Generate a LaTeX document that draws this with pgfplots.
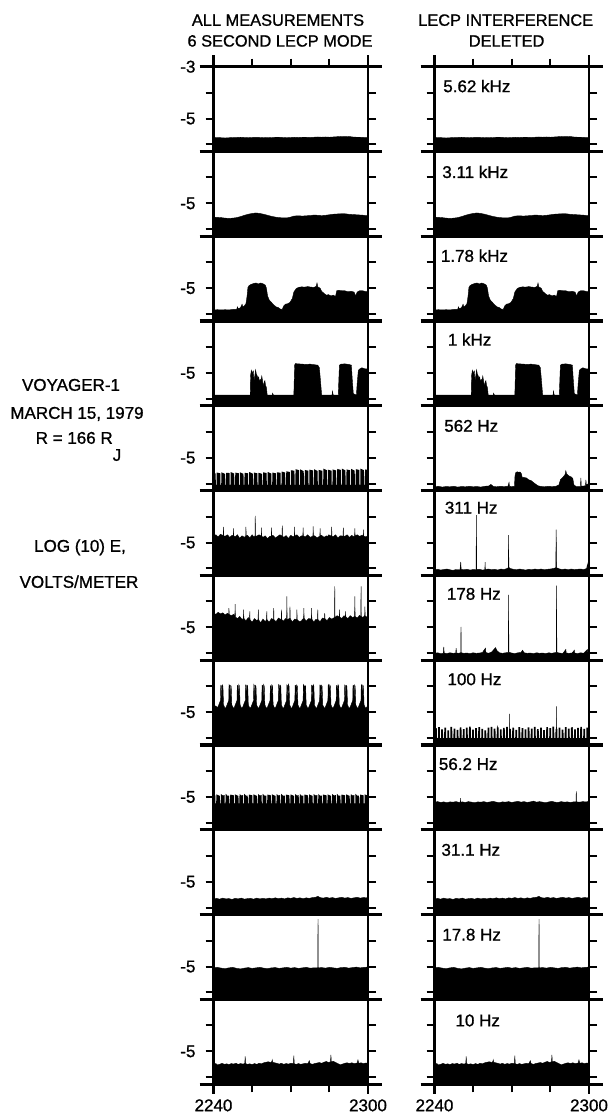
\documentclass[border=0pt]{standalone}
\usepackage{fontspec}
\setmainfont{Liberation Sans}
\newfontfamily\scan{Liberation Sans}[FakeBold=1]
\usepackage{pgfplots}
\pgfplotsset{compat=1.18}
\usepackage{pgfplotstable}

% ---------- log10 E (V/m) against minutes after 22:40 ----------
% 5.62 kHz (same in both columns)
\pgfplotstableread[row sep=\\]{x y\\
0 -6.4\\0 -5.74\\0.5 -5.73\\1 -5.74\\1.5 -5.75\\2 -5.74\\2.5 -5.73\\3 -5.73\\3.5 -5.72\\4 -5.73\\4.5 -5.74\\5 -5.73\\5.5 -5.72\\6 -5.73\\6.5 -5.74\\7 -5.73\\7.5 -5.74\\8 -5.72\\8.5 -5.72\\9 -5.73\\9.5 -5.74\\10 -5.73\\10.5 -5.72\\11 -5.73\\11.5 -5.72\\12 -5.72\\12.5 -5.73\\13 -5.72\\13.5 -5.71\\14 -5.72\\14.5 -5.71\\15 -5.72\\15.5 -5.71\\16 -5.70\\16.5 -5.69\\17 -5.70\\17.5 -5.69\\18 -5.71\\18.5 -5.72\\19 -5.72\\19.5 -5.73\\20 -5.73\\20 -6.4\\
}\TA
% 3.11 kHz
\pgfplotstableread[row sep=\\]{x y\\
0 -6.4\\0 -5.53\\0.5 -5.54\\1 -5.55\\1.5 -5.57\\2 -5.58\\2.5 -5.57\\3 -5.55\\3.5 -5.51\\4 -5.46\\4.5 -5.42\\5 -5.39\\5.5 -5.37\\6 -5.39\\6.5 -5.42\\7 -5.46\\7.5 -5.5\\8 -5.53\\8.5 -5.55\\9 -5.56\\9.5 -5.56\\10 -5.53\\10.4 -5.49\\11 -5.48\\11.5 -5.49\\12 -5.48\\12.5 -5.47\\13 -5.45\\13.5 -5.46\\14 -5.47\\14.5 -5.46\\15 -5.44\\15.5 -5.42\\16 -5.41\\16.5 -5.4\\17 -5.4\\17.5 -5.42\\18 -5.43\\18.5 -5.44\\19 -5.45\\19.5 -5.46\\20 -5.48\\20 -6.4\\
}\TB
% 1.78 kHz
\pgfplotstableread[row sep=\\]{x y\\
0 -6.4\\0 -5.84\\0.5 -5.83\\1 -5.84\\1.5 -5.83\\2 -5.84\\2.5 -5.82\\3.0 -5.82\\3.1 -5.72\\3.2 -5.8\\3.5 -5.75\\3.7 -5.62\\3.8 -5.72\\4.0 -5.68\\4.2 -5.6\\4.35 -5.3\\4.45 -4.98\\4.6 -4.9\\4.9 -4.85\\5.2 -4.82\\5.5 -4.8\\5.8 -4.84\\6.1 -4.8\\6.4 -4.83\\6.7 -4.88\\6.85 -5.0\\7.0 -5.3\\7.2 -5.45\\7.5 -5.55\\7.8 -5.65\\8.1 -5.72\\8.4 -5.75\\8.6 -5.8\\8.9 -5.82\\9.1 -5.68\\9.3 -5.62\\9.6 -5.6\\9.9 -5.55\\10.2 -5.4\\10.4 -5.15\\10.7 -5.02\\11.0 -4.97\\11.4 -4.95\\11.8 -4.96\\12.2 -4.94\\12.6 -4.96\\13.0 -4.97\\13.3 -4.93\\13.4 -4.8\\13.5 -4.95\\13.8 -5.0\\14.0 -5.12\\14.3 -5.2\\14.6 -5.27\\14.9 -5.25\\15.2 -5.3\\15.5 -5.27\\15.8 -5.32\\15.95 -5.1\\16.2 -5.08\\16.6 -5.1\\17.0 -5.1\\17.4 -5.14\\17.8 -5.12\\18.2 -5.15\\18.4 -5.3\\18.6 -5.15\\18.9 -5.1\\19.3 -5.1\\19.7 -5.13\\20 -5.14\\20 -6.4\\
}\TC
% 1 kHz
\pgfplotstableread[row sep=\\]{x y\\
0 -6.4\\0 -5.85\\2 -5.85\\4.75 -5.85\\4.8 -5.1\\4.9 -4.9\\5.0 -5.0\\5.15 -4.92\\5.25 -5.3\\5.35 -5.1\\5.45 -4.88\\5.55 -5.05\\5.65 -5.1\\5.75 -5.2\\5.85 -5.15\\5.95 -5.35\\6.05 -5.25\\6.15 -5.3\\6.25 -5.12\\6.35 -5.3\\6.45 -5.55\\6.55 -5.35\\6.65 -5.3\\6.75 -5.5\\6.85 -5.55\\6.95 -5.85\\7.6 -5.85\\7.65 -5.78\\7.75 -5.85\\10.4 -5.85\\10.5 -4.7\\10.6 -4.64\\11 -4.65\\11.5 -4.66\\12 -4.67\\12.5 -4.66\\13 -4.68\\13.5 -4.7\\13.7 -4.8\\13.85 -5.3\\14.0 -5.85\\15.35 -5.85\\15.4 -5.7\\15.5 -5.85\\16.15 -5.85\\16.3 -4.7\\16.5 -4.66\\17.0 -4.65\\17.5 -4.67\\17.85 -4.7\\17.95 -5.2\\18.1 -5.8\\18.5 -5.85\\18.6 -5.4\\18.75 -4.9\\18.9 -4.85\\19.2 -4.8\\19.6 -4.84\\20 -4.85\\20 -6.4\\
}\TD
% 562 Hz, all measurements
\pgfplotstableread[row sep=\\]{x y\\
0 -6.4\\0 -5.6\\
0.28 -5.6\\0.30 -6.05\\0.40 -6.05\\0.42 -5.57\\
0.88 -5.6\\0.90 -6.05\\1.00 -6.05\\1.02 -5.56\\
1.48 -5.62\\1.50 -6.05\\1.60 -6.05\\1.62 -5.58\\
2.08 -5.59\\2.10 -6.05\\2.20 -6.05\\2.22 -5.55\\
2.68 -5.61\\2.70 -6.05\\2.80 -6.05\\2.82 -5.57\\
3.28 -5.6\\3.30 -6.05\\3.40 -6.05\\3.42 -5.56\\
3.88 -5.62\\3.90 -6.05\\4.00 -6.05\\4.02 -5.58\\
4.48 -5.6\\4.50 -6.05\\4.60 -6.05\\4.62 -5.55\\
5.08 -5.61\\5.10 -6.05\\5.20 -6.05\\5.22 -5.57\\
5.68 -5.6\\5.70 -6.05\\5.80 -6.05\\5.82 -5.58\\
6.28 -5.62\\6.30 -6.05\\6.40 -6.05\\6.42 -5.56\\
6.88 -5.59\\6.90 -6.05\\7.00 -6.05\\7.02 -5.55\\
7.48 -5.61\\7.50 -6.05\\7.60 -6.05\\7.62 -5.57\\
8.08 -5.6\\8.10 -6.05\\8.20 -6.05\\8.22 -5.56\\
8.68 -5.58\\8.70 -6.05\\8.80 -6.05\\8.82 -5.53\\
9.28 -5.57\\9.30 -6.05\\9.40 -6.05\\9.42 -5.52\\
9.88 -5.55\\9.90 -6.05\\10.00 -6.05\\10.02 -5.48\\
10.48 -5.5\\10.50 -6.05\\10.60 -6.05\\10.62 -5.44\\
11.08 -5.48\\11.10 -6.05\\11.20 -6.05\\11.22 -5.45\\
11.68 -5.52\\11.70 -6.05\\11.80 -6.05\\11.82 -5.47\\
12.28 -5.5\\12.30 -6.05\\12.40 -6.05\\12.42 -5.46\\
12.88 -5.49\\12.90 -6.05\\13.00 -6.05\\13.02 -5.44\\
13.48 -5.51\\13.50 -6.05\\13.60 -6.05\\13.62 -5.47\\
14.08 -5.5\\14.10 -6.05\\14.20 -6.05\\14.22 -5.42\\
14.68 -5.48\\14.70 -6.05\\14.80 -6.05\\14.82 -5.46\\
15.28 -5.5\\15.30 -6.05\\15.40 -6.05\\15.42 -5.45\\
15.88 -5.49\\15.90 -6.05\\16.00 -6.05\\16.02 -5.43\\
16.48 -5.47\\16.50 -6.05\\16.60 -6.05\\16.62 -5.42\\
17.08 -5.49\\17.10 -6.05\\17.20 -6.05\\17.22 -5.45\\
17.68 -5.48\\17.70 -6.05\\17.80 -6.05\\17.82 -5.43\\
18.28 -5.5\\18.30 -6.05\\18.40 -6.05\\18.42 -5.44\\
18.88 -5.47\\18.90 -6.05\\19.00 -6.05\\19.02 -5.42\\
19.48 -5.48\\19.50 -6.05\\19.60 -6.05\\19.62 -5.45\\
20 -5.47\\20 -6.4\\
}\TEl
% 562 Hz, interference deleted
\pgfplotstableread[row sep=\\]{x y\\
0 -6.4\\0 -6.12\\0.5 -6.1\\1.0 -6.13\\1.5 -6.11\\2.0 -6.12\\2.5 -6.1\\3.0 -6.13\\3.5 -6.11\\4.0 -6.12\\4.5 -6.1\\5.0 -6.12\\5.5 -6.11\\6.0 -6.13\\6.5 -6.1\\7.0 -6.09\\7.3 -6.03\\7.6 -6.1\\8.0 -6.12\\8.5 -6.1\\9.0 -6.11\\9.5 -6.1\\9.65 -5.95\\9.7 -6.1\\10.0 -6.11\\10.35 -6.1\\10.42 -5.7\\10.5 -5.58\\10.7 -5.54\\10.9 -5.56\\11.1 -5.55\\11.25 -5.62\\11.35 -5.75\\11.6 -5.76\\11.9 -5.78\\12.2 -5.85\\12.5 -5.88\\12.8 -5.95\\13.1 -6.02\\13.4 -6.08\\13.7 -6.1\\14.2 -6.12\\14.7 -6.1\\15.2 -6.11\\15.7 -6.1\\16.1 -6.05\\16.3 -5.85\\16.6 -5.76\\16.9 -5.65\\17.0 -5.5\\17.1 -5.62\\17.4 -5.7\\17.7 -5.74\\17.9 -5.8\\18.05 -6.05\\18.3 -6.1\\18.9 -6.1\\18.95 -5.78\\19.0 -6.1\\19.55 -6.08\\19.6 -5.85\\19.65 -6.05\\20 -5.98\\20 -6.4\\
}\TEr
% 311 Hz, all measurements
\pgfplotstableread[row sep=\\]{x y\\
0 -6.4\\0 -4.75\\0.3 -4.7\\0.6 -4.78\\0.9 -4.68\\1.2 -4.72\\1.27 -4.74\\1.3 -4.4\\1.33 -4.74\\1.5 -4.76\\1.8 -4.7\\2.1 -4.8\\2.4 -4.72\\2.57 -4.75\\2.6 -4.45\\2.63 -4.75\\2.8 -4.78\\3.1 -4.7\\3.4 -4.84\\3.55 -4.78\\3.57 -4.95\\3.59 -4.76\\3.7 -4.74\\4.0 -4.8\\4.17 -4.75\\4.2 -4.4\\4.23 -4.75\\4.4 -4.72\\4.7 -4.82\\5.0 -4.7\\5.2 -4.78\\5.37 -4.75\\5.4 -3.97\\5.43 -4.75\\5.6 -4.75\\5.9 -4.7\\6.17 -4.75\\6.2 -4.42\\6.23 -4.75\\6.4 -4.8\\6.7 -4.74\\7.0 -4.85\\7.3 -4.76\\7.47 -4.75\\7.5 -4.42\\7.53 -4.75\\7.7 -4.72\\8.0 -4.82\\8.15 -4.8\\8.17 -4.96\\8.19 -4.78\\8.3 -4.76\\8.6 -4.7\\8.87 -4.75\\8.9 -4.35\\8.93 -4.75\\9.1 -4.8\\9.4 -4.73\\9.7 -4.84\\10.0 -4.72\\10.3 -4.78\\10.47 -4.75\\10.5 -4.4\\10.53 -4.75\\10.8 -4.7\\11.1 -4.8\\11.4 -4.74\\11.57 -4.75\\11.6 -4.42\\11.63 -4.75\\11.9 -4.78\\12.2 -4.7\\12.5 -4.8\\12.87 -4.75\\12.9 -4.38\\12.93 -4.75\\13.1 -4.74\\13.4 -4.82\\13.77 -4.75\\13.8 -4.45\\13.83 -4.75\\14.0 -4.72\\14.3 -4.8\\14.6 -4.74\\14.75 -4.78\\14.77 -4.95\\14.79 -4.76\\14.9 -4.7\\15.27 -4.75\\15.3 -4.4\\15.33 -4.75\\15.5 -4.78\\15.8 -4.7\\16.1 -4.82\\16.4 -4.74\\16.77 -4.75\\16.8 -4.42\\16.83 -4.75\\17.0 -4.76\\17.3 -4.7\\17.6 -4.8\\17.9 -4.72\\18.1 -4.78\\18.27 -4.75\\18.3 -4.45\\18.33 -4.75\\18.6 -4.7\\18.9 -4.76\\19.2 -4.72\\19.37 -4.75\\19.4 -4.5\\19.43 -4.75\\19.7 -4.78\\20 -4.75\\20 -6.4\\
}\TFl
% 311 Hz, interference deleted
\pgfplotstableread[row sep=\\]{x y\\
0 -6.4\\0 -6.05\\0.4 -6.03\\0.8 -6.06\\1.2 -6.04\\1.6 -6.02\\2.0 -6.05\\2.4 -6.07\\2.8 -6.04\\3.3 -6.04\\3.4 -5.75\\3.45 -6.03\\3.8 -6.05\\4.2 -6.03\\4.6 -6.06\\5.0 -6.04\\5.38 -6.05\\5.42 -3.94\\5.46 -6.04\\5.8 -6.03\\6.2 -6.06\\6.52 -6.05\\6.55 -5.75\\6.58 -6.04\\7.0 -6.02\\7.4 -6.05\\7.8 -6.03\\8.2 -6.06\\8.6 -6.02\\9.0 -6.04\\9.4 -6.0\\9.55 -5.97\\9.59 -4.71\\9.63 -5.96\\9.8 -6.0\\10.2 -6.03\\10.6 -6.05\\11.0 -6.02\\11.4 -6.04\\11.8 -6.06\\12.2 -6.03\\12.6 -6.05\\13.0 -6.02\\13.4 -6.04\\13.8 -6.02\\14.2 -6.05\\14.6 -6.03\\15.0 -6.02\\15.4 -6.0\\15.7 -5.97\\15.75 -4.5\\15.8 -5.97\\16.1 -6.01\\16.5 -6.04\\16.9 -6.02\\17.3 -6.05\\17.7 -6.02\\18.1 -6.04\\18.5 -6.03\\18.9 -6.02\\19.3 -6.04\\19.7 -6.0\\19.8 -5.83\\19.85 -6.0\\20 -6.02\\20 -6.4\\
}\TFr
% 178 Hz, all measurements
\pgfplotstableread[row sep=\\]{x y\\
0 -6.4\\0 -4.45\\0.3 -4.5\\0.6 -4.42\\0.9 -4.48\\1.2 -4.44\\1.5 -4.52\\1.8 -4.46\\1.97 -4.5\\2.0 -4.26\\2.03 -4.5\\2.3 -4.55\\2.6 -4.5\\2.77 -4.55\\2.8 -4.1\\2.83 -4.6\\3.1 -4.66\\3.4 -4.58\\3.7 -4.7\\3.87 -4.65\\3.9 -4.32\\3.93 -4.65\\4.2 -4.75\\4.5 -4.62\\4.67 -4.7\\4.7 -4.38\\4.73 -4.7\\5.0 -4.8\\5.3 -4.66\\5.6 -4.74\\5.77 -4.7\\5.8 -4.32\\5.83 -4.7\\6.1 -4.82\\6.4 -4.68\\6.7 -4.78\\6.87 -4.7\\6.9 -4.38\\6.93 -4.7\\7.2 -4.8\\7.5 -4.66\\7.77 -4.7\\7.8 -4.26\\7.83 -4.7\\8.1 -4.78\\8.4 -4.64\\8.77 -4.7\\8.8 -4.32\\8.83 -4.7\\9.1 -4.76\\9.3 -4.66\\9.47 -4.7\\9.5 -3.81\\9.53 -4.7\\9.7 -4.68\\9.87 -4.65\\9.9 -4.2\\9.93 -4.65\\10.2 -4.8\\10.5 -4.68\\10.77 -4.7\\10.8 -4.32\\10.83 -4.7\\11.1 -4.78\\11.37 -4.75\\11.4 -5.23\\11.43 -4.72\\11.67 -4.65\\11.7 -4.26\\11.73 -4.65\\12.0 -4.76\\12.3 -4.66\\12.67 -4.68\\12.7 -4.26\\12.73 -4.68\\13.0 -4.8\\13.2 -4.7\\13.47 -4.7\\13.5 -4.32\\13.53 -4.7\\13.8 -4.78\\14.1 -4.64\\14.37 -4.66\\14.4 -4.45\\14.43 -4.66\\14.7 -4.74\\15.0 -4.62\\15.3 -4.68\\15.67 -4.62\\15.7 -3.42\\15.73 -4.62\\16.0 -4.55\\16.27 -4.6\\16.3 -4.32\\16.33 -4.6\\16.6 -4.66\\16.9 -4.55\\17.07 -4.6\\17.1 -4.38\\17.13 -4.6\\17.4 -4.66\\17.7 -4.55\\18.0 -4.62\\18.27 -4.58\\18.3 -3.81\\18.33 -4.58\\18.6 -4.64\\18.9 -4.54\\19.07 -4.58\\19.1 -3.42\\19.13 -4.58\\19.35 -4.62\\19.57 -4.55\\19.6 -4.2\\19.63 -4.55\\19.8 -4.6\\20 -4.56\\20 -6.4\\
}\TGl
% 178 Hz, interference deleted
\pgfplotstableread[row sep=\\]{x y\\
0 -6.4\\0 -6.0\\0.4 -5.98\\0.8 -6.01\\1.15 -6.0\\1.2 -5.75\\1.25 -5.99\\1.6 -6.01\\2.0 -5.98\\2.4 -6.0\\2.75 -5.99\\2.8 -5.8\\2.85 -5.99\\3.1 -6.0\\3.4 -5.98\\3.43 -4.98\\3.46 -5.98\\3.8 -6.0\\4.2 -5.99\\4.6 -6.01\\5.0 -5.98\\5.4 -6.0\\5.8 -5.99\\6.2 -5.97\\6.6 -5.8\\6.65 -5.97\\7.0 -6.0\\7.4 -5.95\\7.7 -5.85\\7.9 -5.78\\8.1 -5.9\\8.4 -5.98\\8.8 -6.0\\9.2 -5.98\\9.55 -5.97\\9.59 -3.75\\9.63 -5.96\\10.0 -5.99\\10.4 -6.01\\10.8 -5.98\\11.2 -5.97\\11.4 -5.88\\11.6 -5.98\\12.0 -6.0\\12.4 -5.99\\12.8 -6.01\\13.2 -5.98\\13.6 -6.0\\14.0 -5.99\\14.4 -6.01\\14.8 -5.98\\15.2 -6.0\\15.5 -5.98\\15.76 -5.97\\15.8 -3.39\\15.84 -5.97\\16.2 -5.99\\16.6 -6.01\\17.0 -5.85\\17.05 -5.99\\17.4 -6.0\\17.8 -5.99\\18.1 -5.88\\18.15 -5.99\\18.5 -6.01\\18.9 -5.98\\19.3 -6.0\\19.8 -5.85\\19.85 -5.99\\20 -6.0\\20 -6.4\\
}\TGr
% 100 Hz, all measurements
\pgfplotstableread[row sep=\\]{x y\\
0 -6.4\\0 -4.8\\0.25 -4.76\\
0.55 -4.82\\0.90 -4.55\\0.94 -3.96\\1.02 -3.98\\1.05 -4.35\\1.11 -4.35\\1.14 -3.95\\1.22 -4.0\\1.30 -4.72\\1.50 -4.85\\
1.62 -4.82\\1.97 -4.55\\2.01 -3.94\\2.09 -3.98\\2.12 -4.35\\2.18 -4.35\\2.21 -3.97\\2.29 -4.0\\2.37 -4.72\\2.57 -4.85\\
2.69 -4.82\\3.04 -4.55\\3.08 -3.97\\3.16 -3.98\\3.19 -4.35\\3.25 -4.35\\3.28 -3.94\\3.36 -4.0\\3.44 -4.72\\3.64 -4.85\\
3.76 -4.82\\4.11 -4.55\\4.15 -3.95\\4.23 -3.98\\4.26 -4.35\\4.32 -4.35\\4.35 -3.96\\4.43 -4.0\\4.51 -4.72\\4.71 -4.85\\
4.83 -4.82\\5.18 -4.55\\5.22 -3.93\\5.30 -3.98\\5.33 -4.35\\5.39 -4.35\\5.42 -3.97\\5.50 -4.0\\5.58 -4.72\\5.78 -4.85\\
5.90 -4.82\\6.25 -4.55\\6.29 -3.96\\6.37 -3.98\\6.40 -4.35\\6.46 -4.35\\6.49 -3.94\\6.57 -4.0\\6.65 -4.72\\6.85 -4.85\\
6.97 -4.82\\7.32 -4.55\\7.36 -3.98\\7.44 -3.98\\7.47 -4.35\\7.53 -4.35\\7.56 -3.95\\7.64 -4.0\\7.72 -4.72\\7.92 -4.85\\
8.04 -4.82\\8.39 -4.55\\8.43 -3.94\\8.51 -3.98\\8.54 -4.35\\8.60 -4.35\\8.63 -3.96\\8.71 -4.0\\8.79 -4.72\\8.99 -4.85\\
9.11 -4.82\\9.46 -4.55\\9.50 -3.95\\9.58 -3.98\\9.61 -4.35\\9.67 -4.35\\9.70 -3.93\\9.78 -4.0\\9.86 -4.72\\10.06 -4.85\\
10.18 -4.82\\10.53 -4.55\\10.57 -3.97\\10.65 -3.98\\10.68 -4.35\\10.74 -4.35\\10.77 -3.95\\10.85 -4.0\\10.93 -4.72\\11.13 -4.85\\
11.25 -4.82\\11.60 -4.55\\11.64 -3.94\\11.72 -3.98\\11.75 -4.35\\11.81 -4.35\\11.84 -3.97\\11.92 -4.0\\12.00 -4.72\\12.20 -4.85\\
12.32 -4.82\\12.67 -4.55\\12.71 -3.96\\12.79 -3.98\\12.82 -4.35\\12.88 -4.35\\12.91 -3.94\\12.99 -4.0\\13.07 -4.72\\13.27 -4.85\\
13.39 -4.82\\13.74 -4.55\\13.78 -3.95\\13.86 -3.98\\13.89 -4.35\\13.95 -4.35\\13.98 -3.96\\14.06 -4.0\\14.14 -4.72\\14.34 -4.85\\
14.46 -4.82\\14.81 -4.55\\14.85 -3.93\\14.93 -3.98\\14.96 -4.35\\15.02 -4.35\\15.05 -3.95\\15.13 -4.0\\15.21 -4.72\\15.41 -4.85\\
15.53 -4.82\\15.88 -4.55\\15.92 -3.97\\16.00 -3.98\\16.03 -4.35\\16.09 -4.35\\16.12 -3.94\\16.20 -4.0\\16.28 -4.72\\16.48 -4.85\\
16.60 -4.82\\16.95 -4.55\\16.99 -3.95\\17.07 -3.98\\17.10 -4.35\\17.16 -4.35\\17.19 -3.97\\17.27 -4.0\\17.35 -4.72\\17.55 -4.85\\
17.67 -4.82\\18.02 -4.55\\18.06 -3.96\\18.14 -3.98\\18.17 -4.35\\18.23 -4.35\\18.26 -3.95\\18.34 -4.0\\18.42 -4.72\\18.62 -4.85\\
18.74 -4.82\\19.09 -4.55\\19.13 -3.94\\19.21 -3.98\\19.24 -4.35\\19.30 -4.35\\19.33 -3.96\\19.41 -4.0\\19.49 -4.72\\19.69 -4.85\\
20 -4.75\\20 -6.4\\
}\THl
% 100 Hz, interference deleted: fence of short bars
\pgfplotstableread[row sep=\\]{x y\\
0 -6.4\\0 -6.0\\
0.05 -6.0\\0.07 -5.62\\0.29 -5.62\\0.31 -6.0\\
0.45 -6.0\\0.47 -5.58\\0.69 -5.58\\0.71 -6.0\\
0.85 -6.0\\0.87 -5.66\\1.09 -5.66\\1.11 -6.0\\
1.25 -6.0\\1.27 -5.6\\1.49 -5.6\\1.51 -6.0\\
1.65 -6.0\\1.67 -5.7\\1.89 -5.7\\1.91 -6.0\\
2.05 -6.0\\2.07 -5.57\\2.29 -5.57\\2.31 -6.0\\
2.45 -6.0\\2.47 -5.63\\2.69 -5.63\\2.71 -6.0\\
2.85 -6.0\\2.87 -5.68\\3.09 -5.68\\3.11 -6.0\\
3.25 -6.0\\3.27 -5.59\\3.49 -5.59\\3.51 -6.0\\
3.65 -6.0\\3.67 -5.65\\3.89 -5.65\\3.91 -6.0\\
4.05 -6.0\\4.07 -5.6\\4.29 -5.6\\4.31 -6.0\\
4.45 -6.0\\4.47 -5.56\\4.69 -5.56\\4.71 -6.0\\
4.85 -6.0\\4.87 -5.67\\5.09 -5.67\\5.11 -6.0\\
5.25 -6.0\\5.27 -5.62\\5.49 -5.62\\5.51 -6.0\\
5.65 -6.0\\5.67 -5.58\\5.89 -5.58\\5.91 -6.0\\
6.05 -6.0\\6.07 -5.64\\6.29 -5.64\\6.31 -6.0\\
6.45 -6.0\\6.47 -5.7\\6.69 -5.7\\6.71 -6.0\\
6.85 -6.0\\6.87 -5.6\\7.09 -5.6\\7.11 -6.0\\
7.25 -6.0\\7.27 -5.57\\7.49 -5.57\\7.51 -6.0\\
7.65 -6.0\\7.67 -5.63\\7.89 -5.63\\7.91 -6.0\\
8.05 -6.0\\8.07 -5.59\\8.29 -5.59\\8.31 -6.0\\
8.45 -6.0\\8.47 -5.66\\8.69 -5.66\\8.71 -6.0\\
8.85 -6.0\\8.87 -5.61\\9.09 -5.61\\9.11 -6.0\\
9.25 -6.0\\9.27 -5.57\\9.49 -5.57\\9.51 -6.0\\
9.65 -6.0\\9.67 -5.64\\9.89 -5.64\\9.91 -6.0\\
10.05 -6.0\\10.07 -5.6\\10.29 -5.6\\10.31 -6.0\\
10.45 -6.0\\10.47 -5.68\\10.69 -5.68\\10.71 -6.0\\
10.85 -6.0\\10.87 -5.58\\11.09 -5.58\\11.11 -6.0\\
11.25 -6.0\\11.27 -5.62\\11.49 -5.62\\11.51 -6.0\\
11.65 -6.0\\11.67 -5.66\\11.89 -5.66\\11.91 -6.0\\
12.05 -6.0\\12.07 -5.59\\12.29 -5.59\\12.31 -6.0\\
12.45 -6.0\\12.47 -5.63\\12.69 -5.63\\12.71 -6.0\\
12.85 -6.0\\12.87 -5.57\\13.09 -5.57\\13.11 -6.0\\
13.25 -6.0\\13.27 -5.65\\13.49 -5.65\\13.51 -6.0\\
13.65 -6.0\\13.67 -5.6\\13.89 -5.6\\13.91 -6.0\\
14.05 -6.0\\14.07 -5.69\\14.29 -5.69\\14.31 -6.0\\
14.45 -6.0\\14.47 -5.58\\14.69 -5.58\\14.71 -6.0\\
14.85 -6.0\\14.87 -5.62\\15.09 -5.62\\15.11 -6.0\\
15.25 -6.0\\15.27 -5.56\\15.49 -5.56\\15.51 -6.0\\
15.65 -6.0\\15.67 -5.64\\15.89 -5.64\\15.91 -6.0\\
16.05 -6.0\\16.07 -5.6\\16.29 -5.6\\16.31 -6.0\\
16.45 -6.0\\16.47 -5.67\\16.69 -5.67\\16.71 -6.0\\
16.85 -6.0\\16.87 -5.58\\17.09 -5.58\\17.11 -6.0\\
17.25 -6.0\\17.27 -5.63\\17.49 -5.63\\17.51 -6.0\\
17.65 -6.0\\17.67 -5.59\\17.89 -5.59\\17.91 -6.0\\
18.05 -6.0\\18.07 -5.66\\18.29 -5.66\\18.31 -6.0\\
18.45 -6.0\\18.47 -5.61\\18.69 -5.61\\18.71 -6.0\\
18.85 -6.0\\18.87 -5.57\\19.09 -5.57\\19.11 -6.0\\
19.25 -6.0\\19.27 -5.64\\19.49 -5.64\\19.51 -6.0\\
19.65 -6.0\\19.67 -5.6\\19.89 -5.6\\19.91 -6.0\\
20 -6.0\\20 -6.4\\
}\THr
% 100 Hz, interference deleted: isolated spikes
\pgfplotstableread[row sep=\\]{x y\\
0 -6.4\\8.15 -6.4\\8.16 -5.9\\8.18 -5.52\\8.2 -5.9\\8.21 -6.4\\9.67 -6.4\\9.68 -5.9\\9.7 -5.07\\9.72 -5.9\\9.73 -6.4\\15.77 -6.4\\15.78 -5.9\\15.8 -4.78\\15.82 -5.9\\15.83 -6.4\\17.82 -6.4\\17.83 -5.9\\17.85 -5.58\\17.87 -5.9\\17.88 -6.4\\20 -6.4\\
}\THs
% 56.2 Hz, all measurements
\pgfplotstableread[row sep=\\]{x y\\
0 -6.4\\0 -4.93\\
0.23 -4.94\\0.25 -5.25\\0.35 -5.25\\0.37 -4.90\\0.6 -4.93\\
0.83 -4.96\\0.85 -5.25\\0.95 -5.25\\0.97 -4.89\\1.2 -4.94\\
1.43 -4.93\\1.45 -5.25\\1.55 -5.25\\1.57 -4.88\\1.8 -4.95\\
2.03 -4.95\\2.05 -5.25\\2.15 -5.25\\2.17 -4.91\\2.4 -4.92\\
2.63 -4.94\\2.65 -5.25\\2.75 -5.25\\2.77 -4.90\\3.0 -4.93\\
3.23 -4.96\\3.25 -5.25\\3.35 -5.25\\3.37 -4.89\\3.6 -4.94\\
3.83 -4.93\\3.85 -5.25\\3.95 -5.25\\3.97 -4.88\\4.2 -4.95\\
4.43 -4.95\\4.45 -5.25\\4.55 -5.25\\4.57 -4.91\\4.8 -4.92\\
5.03 -4.94\\5.05 -5.25\\5.15 -5.25\\5.17 -4.90\\5.4 -4.93\\
5.63 -4.96\\5.65 -5.25\\5.75 -5.25\\5.77 -4.89\\6.0 -4.94\\
6.23 -4.93\\6.25 -5.25\\6.35 -5.25\\6.37 -4.88\\6.6 -4.95\\
6.83 -4.95\\6.85 -5.25\\6.95 -5.25\\6.97 -4.91\\7.2 -4.92\\
7.43 -4.94\\7.45 -5.25\\7.55 -5.25\\7.57 -4.90\\7.8 -4.93\\
8.03 -4.96\\8.05 -5.25\\8.15 -5.25\\8.17 -4.89\\8.4 -4.94\\
8.63 -4.93\\8.65 -5.25\\8.75 -5.25\\8.77 -4.88\\9.0 -4.95\\
9.23 -4.95\\9.25 -5.25\\9.35 -5.25\\9.37 -4.91\\9.6 -4.92\\
9.83 -4.94\\9.85 -5.25\\9.95 -5.25\\9.97 -4.90\\10.2 -4.93\\
10.43 -4.96\\10.45 -5.25\\10.55 -5.25\\10.57 -4.89\\10.8 -4.94\\
11.03 -4.93\\11.05 -5.25\\11.15 -5.25\\11.17 -4.88\\11.4 -4.95\\
11.63 -4.95\\11.65 -5.25\\11.75 -5.25\\11.77 -4.91\\12.0 -4.92\\
12.23 -4.94\\12.25 -5.25\\12.35 -5.25\\12.37 -4.90\\12.6 -4.93\\
12.83 -4.96\\12.85 -5.25\\12.95 -5.25\\12.97 -4.89\\13.2 -4.94\\
13.43 -4.93\\13.45 -5.25\\13.55 -5.25\\13.57 -4.88\\13.8 -4.95\\
14.03 -4.95\\14.05 -5.25\\14.15 -5.25\\14.17 -4.91\\14.4 -4.92\\
14.63 -4.94\\14.65 -5.25\\14.75 -5.25\\14.77 -4.90\\15.0 -4.93\\
15.23 -4.96\\15.25 -5.25\\15.35 -5.25\\15.37 -4.89\\15.6 -4.94\\
15.83 -4.93\\15.85 -5.25\\15.95 -5.25\\15.97 -4.88\\16.2 -4.95\\
16.43 -4.95\\16.45 -5.25\\16.55 -5.25\\16.57 -4.91\\16.8 -4.92\\
17.03 -4.94\\17.05 -5.25\\17.15 -5.25\\17.17 -4.90\\17.4 -4.93\\
17.63 -4.96\\17.65 -5.25\\17.75 -5.25\\17.77 -4.89\\18.0 -4.94\\
18.23 -4.93\\18.25 -5.25\\18.35 -5.25\\18.37 -4.88\\18.6 -4.95\\
18.83 -4.95\\18.85 -5.25\\18.95 -5.25\\18.97 -4.91\\19.2 -4.92\\
19.43 -4.94\\19.45 -5.25\\19.55 -5.25\\19.57 -4.90\\19.8 -4.93\\
20 -4.92\\20 -6.4\\
}\TIl
% 56.2 Hz, interference deleted
\pgfplotstableread[row sep=\\]{x y\\
0 -6.4\\0 -5.2\\0.4 -5.18\\0.8 -5.21\\1.2 -5.19\\1.6 -5.22\\2.0 -5.19\\2.4 -5.2\\2.8 -5.18\\3.2 -5.21\\3.32 -5.2\\3.35 -5.05\\3.38 -5.2\\3.6 -5.19\\4.0 -5.21\\4.4 -5.18\\4.8 -5.2\\5.2 -5.22\\5.6 -5.19\\6.0 -5.2\\6.4 -5.18\\6.8 -5.21\\7.2 -5.19\\7.6 -5.17\\8.0 -5.2\\8.4 -5.22\\8.8 -5.19\\9.2 -5.2\\9.6 -5.18\\10.0 -5.21\\10.4 -5.19\\10.8 -5.17\\11.2 -5.2\\11.6 -5.18\\12.0 -5.21\\12.4 -5.19\\12.8 -5.16\\13.2 -5.2\\13.6 -5.18\\14.0 -5.2\\14.4 -5.22\\14.8 -5.19\\15.2 -5.17\\15.6 -5.2\\16.0 -5.21\\16.4 -5.18\\16.8 -5.2\\17.2 -5.19\\17.6 -5.21\\18.0 -5.19\\18.32 -5.19\\18.35 -4.78\\18.38 -5.19\\18.8 -5.2\\19.2 -5.18\\19.6 -5.19\\20 -5.17\\20 -6.4\\
}\TIr
% 31.1 Hz
\pgfplotstableread[row sep=\\]{x y\\
0 -6.4\\0 -5.66\\0.4 -5.64\\0.8 -5.67\\1.2 -5.63\\1.6 -5.66\\2.0 -5.65\\2.4 -5.68\\2.8 -5.64\\3.2 -5.66\\3.6 -5.63\\4.0 -5.67\\4.4 -5.65\\4.8 -5.64\\5.2 -5.67\\5.6 -5.63\\6.0 -5.66\\6.4 -5.64\\6.8 -5.66\\7.2 -5.63\\7.6 -5.65\\8.0 -5.62\\8.4 -5.65\\8.8 -5.63\\9.2 -5.66\\9.6 -5.62\\10.0 -5.64\\10.4 -5.61\\10.8 -5.64\\11.2 -5.62\\11.6 -5.65\\12.0 -5.62\\12.4 -5.64\\12.8 -5.61\\13.2 -5.6\\13.5 -5.56\\13.8 -5.61\\14.2 -5.63\\14.6 -5.6\\15.0 -5.63\\15.4 -5.61\\15.8 -5.64\\16.2 -5.62\\16.6 -5.6\\17.0 -5.63\\17.4 -5.61\\17.8 -5.64\\18.2 -5.62\\18.6 -5.6\\19.0 -5.63\\19.4 -5.61\\19.8 -5.62\\20 -5.6\\20 -6.4\\
}\TJ
% 17.8 Hz
\pgfplotstableread[row sep=\\]{x y\\
0 -6.4\\0 -5.05\\0.5 -5.03\\1 -5.06\\1.5 -5.08\\2 -5.05\\2.5 -5.03\\3 -5.07\\3.5 -5.09\\4 -5.06\\4.5 -5.04\\5 -5.07\\5.5 -5.05\\6 -5.03\\6.5 -5.06\\7 -5.08\\7.5 -5.05\\8 -5.04\\8.5 -5.07\\9 -5.05\\9.5 -5.03\\10 -5.06\\10.5 -5.04\\11 -5.07\\11.5 -5.05\\12 -5.03\\12.5 -5.06\\13 -5.05\\13.5 -5.05\\13.53 -3.17\\13.56 -5.05\\14 -5.04\\14.5 -5.06\\15 -5.03\\15.5 -5.05\\16 -5.07\\16.5 -5.04\\17 -5.03\\17.5 -5.06\\18 -5.04\\18.5 -5.02\\19 -5.05\\19.5 -5.03\\20 -5.02\\20 -6.4\\
}\TK
% 10 Hz
\pgfplotstableread[row sep=\\]{x y\\
0 -6.4\\0 -5.5\\0.3 -5.47\\0.5 -5.52\\0.8 -5.5\\1.1 -5.46\\1.4 -5.5\\1.7 -5.48\\2.0 -5.51\\2.3 -5.47\\2.6 -5.49\\2.9 -5.46\\3.2 -5.5\\3.5 -5.47\\3.8 -5.49\\4.05 -5.47\\4.1 -5.19\\4.15 -5.47\\4.4 -5.5\\4.7 -5.48\\5.0 -5.51\\5.3 -5.47\\5.6 -5.5\\5.9 -5.46\\6.2 -5.48\\6.5 -5.44\\6.8 -5.42\\7.1 -5.4\\7.4 -5.43\\7.55 -5.4\\7.6 -5.33\\7.65 -5.42\\7.9 -5.44\\8.2 -5.46\\8.5 -5.49\\8.8 -5.46\\9.1 -5.5\\9.4 -5.47\\9.7 -5.49\\10.0 -5.46\\10.35 -5.47\\10.4 -5.16\\10.45 -5.48\\10.7 -5.5\\11.0 -5.47\\11.3 -5.5\\11.6 -5.48\\11.9 -5.46\\12.2 -5.48\\12.4 -5.36\\12.5 -5.47\\12.8 -5.5\\13.1 -5.47\\13.4 -5.45\\13.7 -5.43\\14.0 -5.46\\14.3 -5.42\\14.6 -5.39\\14.9 -5.43\\15.15 -5.4\\15.2 -5.14\\15.25 -5.41\\15.5 -5.38\\15.8 -5.43\\16.1 -5.47\\16.4 -5.52\\16.7 -5.49\\17.0 -5.46\\17.3 -5.44\\17.6 -5.47\\17.9 -5.44\\18.2 -5.47\\18.6 -5.45\\18.7 -5.33\\18.8 -5.46\\19.1 -5.44\\19.4 -5.47\\19.7 -5.45\\20 -5.46\\20 -6.4\\
}\TL

\newcommand\lab{\scan\fontsize{8.5}{10}\selectfont}
\newcommand\hdr{\scan\fontsize{8.2}{10}\selectfont}

\pgfplotsset{
  panel/.style={
    scale only axis, width=77.25pt, height=42.4pt,
    anchor=north west,
    xmin=0, xmax=20, ymin=-6.27, ymax=-3,
    axis line style={line width=1.15pt},
    tick style={line width=1pt, black},
    tick align=outside, major tick length=4pt,
    xtick=\empty,
    ytick={-6,-5,-4}, yticklabels={},
    ytick pos=both,
    ticklabel style={font=\lab},
    yticklabel style={xshift=-1.5pt},
  },
  leftcol/.style={yticklabels={,-5,}},
  toppanel/.style={xtick={5,10,15}, xticklabels={}, xtick pos=right},
  botpanel/.style={xtick={0,5,10,15,20}, xticklabels={2240,,,,2300}, xtick pos=left},
  area/.style={fill=black, draw=black, line width=0.2pt},
  comb/.style={fill=black, draw=none},
}

\begin{document}
\begin{tikzpicture}
\useasboundingbox (0,0) rectangle (306.5pt,559.5pt);

% ---------------- left column: all measurements ----------------
\begin{axis}[panel, leftcol, toppanel, ytick={-6,-5,-4,-3}, yticklabels={,-5,,-3}, name=L1, at={(106.75pt,526.15pt)}]
\addplot[area] table {\TA};
\end{axis}
\begin{axis}[panel, leftcol, name=L2, at={(106.75pt,483.75pt)}]
\addplot[area] table {\TB};
\end{axis}
\begin{axis}[panel, leftcol, name=L3, at={(106.75pt,441.35pt)}]
\addplot[area] table {\TC};
\end{axis}
\begin{axis}[panel, leftcol, name=L4, at={(106.75pt,398.95pt)}]
\addplot[area] table {\TD};
\end{axis}
\begin{axis}[panel, leftcol, name=L5, at={(106.75pt,356.55pt)}]
\addplot[comb] table {\TEl};
\end{axis}
\begin{axis}[panel, leftcol, name=L6, at={(106.75pt,314.15pt)}]
\addplot[area] table {\TFl};
\end{axis}
\begin{axis}[panel, leftcol, name=L7, at={(106.75pt,271.75pt)}]
\addplot[area] table {\TGl};
\end{axis}
\begin{axis}[panel, leftcol, name=L8, at={(106.75pt,229.35pt)}]
\addplot[area] table {\THl};
\end{axis}
\begin{axis}[panel, leftcol, name=L9, at={(106.75pt,186.95pt)}]
\addplot[comb] table {\TIl};
\end{axis}
\begin{axis}[panel, leftcol, name=L10, at={(106.75pt,144.55pt)}]
\addplot[area] table {\TJ};
\end{axis}
\begin{axis}[panel, leftcol, name=L11, at={(106.75pt,102.15pt)}]
\addplot[area] table {\TK};
\end{axis}
\begin{axis}[panel, leftcol, botpanel, name=L12, at={(106.75pt,59.75pt)}]
\addplot[area] table {\TL};
\end{axis}

% ---------------- right column: interference deleted ----------------
\begin{axis}[panel, toppanel, name=R1, at={(217.25pt,526.15pt)}]
\addplot[area] table {\TA};
\end{axis}
\begin{axis}[panel, name=R2, at={(217.25pt,483.75pt)}]
\addplot[area] table {\TB};
\end{axis}
\begin{axis}[panel, name=R3, at={(217.25pt,441.35pt)}]
\addplot[area] table {\TC};
\end{axis}
\begin{axis}[panel, name=R4, at={(217.25pt,398.95pt)}]
\addplot[area] table {\TD};
\end{axis}
\begin{axis}[panel, name=R5, at={(217.25pt,356.55pt)}]
\addplot[area] table {\TEr};
\end{axis}
\begin{axis}[panel, name=R6, at={(217.25pt,314.15pt)}]
\addplot[area] table {\TFr};
\end{axis}
\begin{axis}[panel, name=R7, at={(217.25pt,271.75pt)}]
\addplot[area] table {\TGr};
\end{axis}
\begin{axis}[panel, name=R8, at={(217.25pt,229.35pt)}]
\addplot[comb] table {\THr};
\addplot[area] table {\THs};
\end{axis}
\begin{axis}[panel, name=R9, at={(217.25pt,186.95pt)}]
\addplot[area] table {\TIr};
\end{axis}
\begin{axis}[panel, name=R10, at={(217.25pt,144.55pt)}]
\addplot[area] table {\TJ};
\end{axis}
\begin{axis}[panel, name=R11, at={(217.25pt,102.15pt)}]
\addplot[area] table {\TK};
\end{axis}
\begin{axis}[panel, botpanel, name=R12, at={(217.25pt,59.75pt)}]
\addplot[area] table {\TL};
\end{axis}

% panel separators, extended past both frames
\foreach \c in {L,R}{
  \foreach \i in {1,...,12}{
    \draw[line width=1.6pt] ([xshift=-7pt]\c\i.north west) -- ([xshift=7pt]\c\i.north east);
  }
  \draw[line width=1.6pt] ([xshift=-7pt]\c12.south west) -- ([xshift=7pt]\c12.south east);
  \draw[line width=1.15pt] (\c1.north west) -- ++(0,6pt);
  \draw[line width=1.15pt] (\c1.north east) -- ++(0,6pt);
  \draw[line width=1.15pt] (\c12.south west) -- ++(0,-5pt);
  \draw[line width=1.15pt] (\c12.south east) -- ++(0,-5pt);
}

% column headings
\node[font=\hdr, anchor=base] at (139pt,546.6pt) {ALL MEASUREMENTS};
\node[font=\hdr, anchor=base] at (140pt,536.2pt) {6 SECOND LECP MODE};
\node[font=\hdr, anchor=base] at (252.85pt,546.6pt) {LECP INTERFERENCE};
\node[font=\hdr, anchor=base] at (253.3pt,536.2pt) {DELETED};

% frequency of each channel
\begin{scope}[every node/.style={font=\lab, anchor=west, inner sep=0pt}]
\node at ([xshift=4.2pt,yshift=-9.7pt]R1.north west) {5.62 kHz};
\node at ([xshift=3.7pt,yshift=-10.2pt]R2.north west) {3.11 kHz};
\node at ([xshift=3pt,yshift=-9.7pt]R3.north west) {1.78 kHz};
\node at ([xshift=6.5pt,yshift=-9.2pt]R4.north west) {1 kHz};
\node at ([xshift=4.7pt,yshift=-10pt]R5.north west) {562 Hz};
\node at ([xshift=5pt,yshift=-8.5pt]R6.north west) {311 Hz};
\node at ([xshift=6pt,yshift=-9.2pt]R7.north west) {178 Hz};
\node at ([xshift=6.3pt,yshift=-9.5pt]R8.north west) {100 Hz};
\node at ([xshift=2pt,yshift=-9.5pt]R9.north west) {56.2 Hz};
\node at ([xshift=3.3pt,yshift=-10pt]R10.north west) {31.1 Hz};
\node at ([xshift=3.7pt,yshift=-10pt]R11.north west) {17.8 Hz};
\node at ([xshift=10.3pt,yshift=-10.5pt]R12.north west) {10 Hz};
\end{scope}

% mission and unit annotations
\begin{scope}[every node/.style={font=\lab, anchor=base, inner sep=0pt}]
\node at (35.5pt,364.1pt) {VOYAGER-1};
\node at (38.5pt,350.1pt) {MARCH 15, 1979};
\node at (39.25pt,337.6pt) {R = 166 R\raisebox{-8.5pt}{J}};
\node at (40pt,283.6pt) {LOG (10) E,};
\node at (39.5pt,265.6pt) {VOLTS/METER};
\end{scope}
\end{tikzpicture}
\end{document}
